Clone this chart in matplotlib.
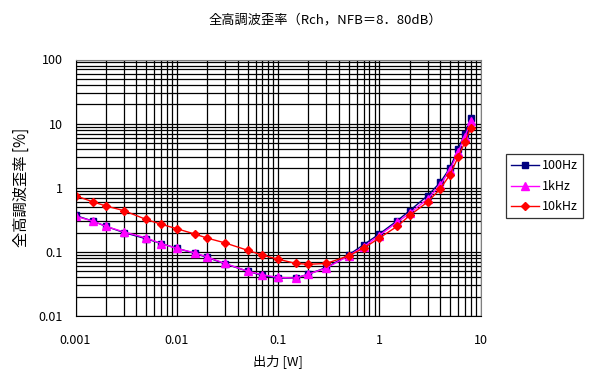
import numpy as np
import matplotlib.pyplot as plt
from matplotlib.ticker import LogLocator, FixedLocator, NullFormatter

plt.rcParams['font.family'] = ['Noto Sans CJK JP', 'DejaVu Sans']

# output power [W]
power = [0.001, 0.0015, 0.002, 0.003, 0.005, 0.007, 0.01, 0.015, 0.02, 0.03,
         0.05, 0.07, 0.1, 0.15, 0.2, 0.3, 0.5, 0.7, 1, 1.5, 2, 3, 4, 5, 6, 7, 8]

# THD [%]
thd_100 = [0.37, 0.30, 0.25, 0.20, 0.16, 0.135, 0.114, 0.095, 0.082, 0.065,
           0.050, 0.043, 0.039, 0.039, 0.045, 0.057, 0.09, 0.129, 0.19, 0.305,
           0.44, 0.75, 1.21, 2.05, 4.0, 7.0, 12.3]
thd_1k = [0.36, 0.30, 0.25, 0.205, 0.165, 0.135, 0.113, 0.097, 0.083, 0.066,
          0.050, 0.044, 0.040, 0.039, 0.045, 0.056, 0.087, 0.12, 0.18, 0.29,
          0.40, 0.67, 1.1, 1.9, 3.6, 6.2, 10.9]
thd_10k = [0.75, 0.60, 0.52, 0.44, 0.32, 0.27, 0.23, 0.19, 0.164, 0.138,
           0.106, 0.089, 0.077, 0.066, 0.064, 0.066, 0.087, 0.114, 0.164, 0.25,
           0.37, 0.60, 0.96, 1.6, 3.0, 5.1, 8.7]

fig = plt.figure(figsize=(6.04, 3.86), dpi=100)
ax = fig.add_axes([75.5/604, 1-316/386, 405/604, 256.5/386])

ax.plot(power, thd_100, color='#000080', marker='s', ms=4.5, lw=1, label='100Hz')
ax.plot(power, thd_1k, color='#FF00FF', marker='^', ms=5.5, lw=1, label='1kHz')
ax.plot(power, thd_10k, color='#FF0000', marker='D', ms=4, lw=1, label='10kHz')

ax.set_xscale('log')
ax.set_yscale('log')
ax.set_xlim(0.001, 10)
ax.set_ylim(0.01, 100)

ax.xaxis.set_major_locator(FixedLocator([0.001, 0.01, 0.1, 1, 10]))
ax.yaxis.set_major_locator(FixedLocator([0.01, 0.1, 1, 10, 100]))
ax.set_xticklabels(['0.001', '0.01', '0.1', '1', '10'])
ax.set_yticklabels(['0.01', '0.1', '1', '10', '100'])
ax.xaxis.set_minor_locator(LogLocator(base=10, subs=np.arange(2, 10), numticks=20))
ax.yaxis.set_minor_locator(LogLocator(base=10, subs=np.arange(2, 10), numticks=20))
ax.xaxis.set_minor_formatter(NullFormatter())
ax.yaxis.set_minor_formatter(NullFormatter())
ax.grid(True, which='both', color='black', lw=0.9)
ax.set_axisbelow(True)
ax.tick_params(axis='x', which='both', length=0, labelsize=9, pad=13)
ax.tick_params(axis='y', which='both', length=0, labelsize=9, pad=9)

for side in ['top', 'right']:
    ax.spines[side].set_color('#808080')
for side in ['left', 'bottom']:
    ax.spines[side].set_color('black')

fig.text(325/604, 1-20/386, '全高調波歪率（Rch，NFB＝8．80dB）', fontsize=9.5,
         ha='center', va='center')
ax.set_xlabel('出力 [W]', fontsize=9.5, labelpad=5)
ax.set_ylabel('全高調波歪率 [%]', fontsize=11, labelpad=6)

leg = ax.legend(loc='center left', bbox_to_anchor=(1.063, 0.505), fontsize=9,
                frameon=True, fancybox=False, edgecolor='black',
                handlelength=2.2, handletextpad=0.3, borderpad=0.4,
                labelspacing=0.6, borderaxespad=0)
leg.get_frame().set_linewidth(0.9)

fig.savefig('out.png', dpi=100)
